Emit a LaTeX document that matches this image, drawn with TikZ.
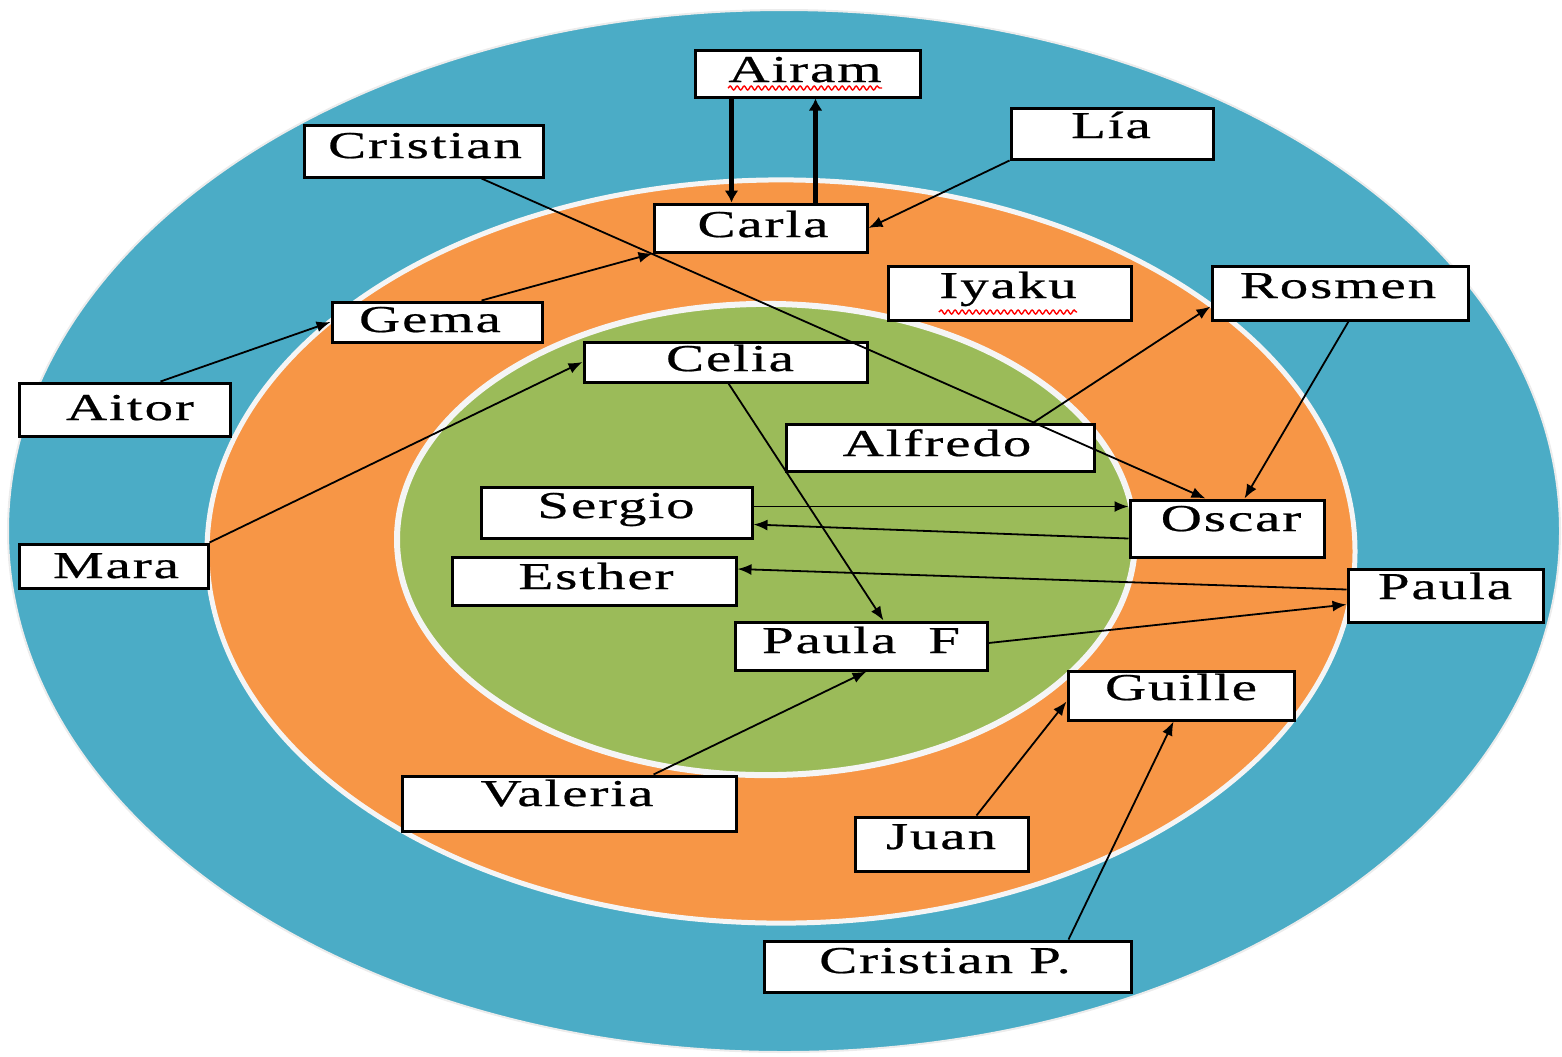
\documentclass[tikz,border=0pt]{standalone}
\usepackage{fontspec}
\setmainfont{Liberation Serif}[FakeStretch=1.5,LetterSpace=5,FakeBold=0.6]
\usetikzlibrary{arrows.meta,calc,decorations.pathmorphing}
\definecolor{ringblue}{HTML}{4BACC6}
\definecolor{ringorange}{HTML}{F79646}
\definecolor{ringgreen}{HTML}{9BBB59}
\begin{document}
\begin{tikzpicture}[x=0.5pt,y=-0.5pt,
  box/.style={draw=black,fill=white,line width=1.5pt,inner sep=0pt},
  lab/.style={anchor=base,font=\fontsize{19}{22}\selectfont,inner sep=0pt},
  link/.style={line width=0.9pt,-{Latex[length=7pt,width=5.5pt]}},
  biglink/.style={line width=2.4pt,-{Latex[length=6pt,width=7pt]}},
  wavy/.style={draw=red,line width=0.7pt,decorate,decoration={snake,amplitude=1pt,segment length=3.5pt}}]
\useasboundingbox (0,0) rectangle (1562,1056);
% rings
\fill[ringblue] (784,531) ellipse [x radius=388pt, y radius=260.5pt];
\draw[white!85!gray,line width=1pt] (784,531) ellipse [x radius=388pt, y radius=260.5pt];
\filldraw[fill=ringorange,draw=white!92!gray,line width=2.5pt] (781,551.5) ellipse [x radius=287pt, y radius=185.8pt];
\filldraw[fill=ringgreen,draw=white!92!gray,line width=3pt] (766,539.5) ellipse [x radius=184.5pt, y radius=117.8pt];
% boxes
\node[box,minimum width=112.5pt,minimum height=23.5pt] (airam) at (807.5,73.5) {};
\node[box,minimum width=101pt,minimum height=25.5pt] (lia) at (1112,133.5) {};
\node[box,minimum width=119.5pt,minimum height=26pt] (cristian) at (423.5,151) {};
\node[box,minimum width=106.5pt,minimum height=24pt] (carla) at (760.5,228) {};
\node[box,minimum width=121.5pt,minimum height=27pt] (iyaku) at (1009.5,293) {};
\node[box,minimum width=128pt,minimum height=27pt] (rosmen) at (1340,293) {};
\node[box,minimum width=105pt,minimum height=20pt] (gema) at (437,322) {};
\node[box,minimum width=141.5pt,minimum height=20pt] (celia) at (725.5,362) {};
\node[box,minimum width=105.5pt,minimum height=26.5pt] (aitor) at (124.5,409.5) {};
\node[box,minimum width=154pt,minimum height=23.5pt] (alfredo) at (940,447.5) {};
\node[box,minimum width=135.5pt,minimum height=25.5pt] (sergio) at (616.5,512.5) {};
\node[box,minimum width=97pt,minimum height=28.5pt] (oscar) at (1227,528.5) {};
\node[box,minimum width=94.5pt,minimum height=22pt] (mara) at (113.5,566) {};
\node[box,minimum width=142pt,minimum height=24pt] (esther) at (594,581) {};
\node[box,minimum width=97.5pt,minimum height=26.5pt] (paula) at (1445.5,595.5) {};
\node[box,minimum width=126pt,minimum height=24pt] (paulaf) at (861,646) {};
\node[box,minimum width=113pt,minimum height=24.5pt] (guille) at (1181,695.5) {};
\node[box,minimum width=167pt,minimum height=27.5pt] (valeria) at (569,803.5) {};
\node[box,minimum width=86.5pt,minimum height=27pt] (juan) at (941.5,844) {};
\node[box,minimum width=183.5pt,minimum height=25.5pt] (cristianp) at (947.5,966.5) {};
% labels
\node[lab] (airam-t) at (805,82) {Airam};
\node[lab] (lia-t) at (1111,138) {Lía};
\node[lab] (cristian-t) at (425,158) {Cristian};
\node[lab] (carla-t) at (763,237) {Carla};
\node[lab] (iyaku-t) at (1008,298) {Iyaku};
\node[lab] (rosmen-t) at (1338,298) {Rosmen};
\node[lab] (gema-t) at (430,332) {Gema};
\node[lab] (celia-t) at (730,371) {Celia};
\node[lab] (aitor-t) at (130,420) {Aitor};
\node[lab] (alfredo-t) at (937,456) {Alfredo};
\node[lab] (sergio-t) at (616,518) {Sergio};
\node[lab] (oscar-t) at (1231,531) {Oscar};
\node[lab] (mara-t) at (116,578) {Mara};
\node[lab] (esther-t) at (596,589) {Esther};
\node[lab] (paula-t) at (1445,599) {Paula};
\node[lab] (paulaf-t) at (861,653) {Paula\hspace{16pt}F};
\node[lab] (guille-t) at (1181,700) {Guille};
\node[lab] (valeria-t) at (567,806) {Valeria};
\node[lab] (juan-t) at (941,849) {Juan};
\node[lab] (cristianp-t) at (945,973) {Cristian P.};
% spell-check underlines
\draw[wavy] ($(airam-t.base west)+(0,6)$) -- ($(airam-t.base east)+(0,6)$);
\draw[wavy] ($(iyaku-t.base west)+(0,14)$) -- ($(iyaku-t.base east)+(0,14)$);
% connectors
\draw[biglink] ($(airam.south west)+(38,0)$) -- ($(carla.north west)+(79,0)$);
\draw[biglink] ($(carla.north west)+(163,0)$) -- ($(airam.south west)+(122,0)$);
\draw[link] (lia.south west) -- (carla.east);
\draw[link] ($(cristian.south west)+(179,0)$) -- ($(oscar.north west)+(77,0)$);
\draw[link] ($(gema.north west)+(151,0)$) -- (carla.south west);
\draw[link] ($(aitor.north west)+(143,0)$) -- (gema.west);
\draw[link] (mara.north east) -- (celia.west);
\draw[link] ($(celia.south west)+(146,0)$) -- ($(paulaf.north west)+(150,0)$);
\draw[link] ($(alfredo.north west)+(249,0)$) -- ($(rosmen.south west)+(0,-15)$);
\draw[link] ($(rosmen.south west)+(138,0)$) -- ($(oscar.north west)+(116,0)$);
\draw[link] ($(sergio.east)+(0,-6)$) -- ($(oscar.west)+(0,-22)$);
\draw[link] ($(oscar.west)+(0,10)$) -- ($(sergio.east)+(0,12)$);
\draw[link] ($(paula.west)+(0,-6)$) -- ($(esther.east)+(0,-12)$);
\draw[link] ($(paulaf.east)+(0,-3)$) -- ($(paula.west)+(0,9)$);
\draw[link] ($(valeria.north west)+(253,0)$) -- ($(paulaf.south west)+(133,0)$);
\draw[link] ($(juan.north west)+(123,0)$) -- ($(guille.west)+(0,6)$);
\draw[link] ($(cristianp.north west)+(306,0)$) -- ($(guille.south west)+(107,0)$);
\end{tikzpicture}
\end{document}
